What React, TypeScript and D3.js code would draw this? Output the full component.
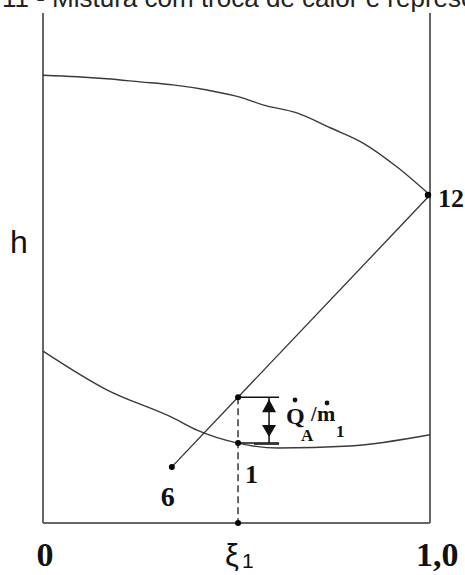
import React from "react";
import * as d3 from "d3";

// Mixing with heat exchange in an enthalpy–concentration (h–ξ) diagram
const upperXi = [0, 0.088, 0.165, 0.251, 0.336, 0.424, 0.509, 0.568, 0.656, 0.742, 0.827, 0.915, 1];
const upperH = [87.8, 87.5, 87.1, 86.5, 85.9, 84.9, 83.5, 82.0, 80.4, 77.5, 74.5, 69.8, 64.3];

const lowerXi = [0, 0.165, 0.336, 0.398, 0.501, 0.607, 0.793, 1];
const lowerH = [33.7, 26.1, 20.6, 18.2, 15.7, 14.7, 15.1, 17.3];

const state6 = { xi: 0.333, h: 11.0 };
const state12 = { xi: 1.0, h: 64.3 };
const xi1 = 0.504;
const h1 = 15.7;

const xTickLabels = ["0", "1,0"];

const W = 465;
const H = 575;

export default function App() {
  const x = d3.scaleLinear().domain([0, 1]).range([43, 430]);
  const y = d3.scaleLinear().domain([0, 100]).range([523, 13]);

  const line = d3
    .line<[number, number]>()
    .x((d) => x(d[0]))
    .y((d) => y(d[1]))
    .curve(d3.curveMonotoneX);

  const upper = line(upperXi.map((v, i) => [v, upperH[i]] as [number, number])) || "";
  const lower = line(lowerXi.map((v, i) => [v, lowerH[i]] as [number, number])) || "";

  // mixture point on the straight line 6–12
  const hMix = state6.h + ((xi1 - state6.xi) / (state12.xi - state6.xi)) * (state12.h - state6.h);

  const x1 = x(xi1);
  const yMix = y(hMix);
  const y1 = y(h1);
  const ax = x1 + 31;
  const serif = "'Liberation Serif', 'Times New Roman', serif";
  const sans = "'Liberation Sans', Arial, sans-serif";
  const ink = "#111";

  return (
    <svg
      width={W}
      height={H}
      style={{ position: "absolute", left: 0, top: 0, background: "#fff" }}
    >
      <rect width={W} height={H} fill="#fff" />
      <text x={2} y={7} fontFamily={sans} fontSize={26} fill="#222">
        11 - Mistura com troca de calor e representação
      </text>

      {/* frame */}
      <g stroke="#666" strokeWidth={2} fill="none">
        <line x1={x(0)} y1={y(100)} x2={x(0)} y2={y(0)} />
        <line x1={x(1)} y1={y(100)} x2={x(1)} y2={y(0)} />
        <line x1={x(0)} y1={y(0)} x2={x(1)} y2={y(0)} />
      </g>

      {/* saturation curves */}
      <path d={upper} fill="none" stroke="#3a3a3a" strokeWidth={1.4} />
      <path d={lower} fill="none" stroke="#3a3a3a" strokeWidth={1.4} />

      {/* mixing line 6–12 */}
      <line
        x1={x(state6.xi)}
        y1={y(state6.h)}
        x2={x(state12.xi)}
        y2={y(state12.h)}
        stroke="#333"
        strokeWidth={1.3}
      />

      {/* dashed vertical at ξ1 */}
      <line
        x1={x1}
        y1={yMix}
        x2={x1}
        y2={y(0)}
        stroke="#444"
        strokeWidth={1.6}
        strokeDasharray="7 4"
      />

      {/* heat arrow */}
      <g stroke="#111" strokeWidth={1.5}>
        <line x1={x1} y1={yMix} x2={ax + 10} y2={yMix} />
        <line x1={x1} y1={y1} x2={ax + 10} y2={y1} />
        <line x1={ax} y1={yMix} x2={ax} y2={y1} />
      </g>
      <line x1={ax - 15} y1={y1 + 1} x2={ax + 10} y2={y1 + 1} stroke="#333" strokeWidth={2} />
      <path
        d={`M${ax},${yMix + 2} L${ax - 7},${yMix + 15} L${ax + 7},${yMix + 15} Z`}
        fill="#111"
      />
      <path
        d={`M${ax},${y1 - 6} L${ax - 7},${y1 - 18} L${ax + 7},${y1 - 18} Z`}
        fill="#111"
      />

      {/* state points */}
      <g fill="#000">
        <circle cx={x(state6.xi)} cy={y(state6.h)} r={3} />
        <circle cx={x(state12.xi) - 2} cy={y(state12.h)} r={3.2} />
        <circle cx={x1} cy={yMix} r={3} />
        <circle cx={x1} cy={y1} r={3} />
        <circle cx={x1} cy={y(0)} r={3} />
      </g>

      {/* point labels */}
      <text x={x(state6.xi) - 11} y={506} fontFamily={serif} fontWeight="bold" fontSize={28} fill={ink}>
        6
      </text>
      <text x={x1 + 7} y={483} fontFamily={serif} fontWeight="bold" fontSize={26} fill={ink}>
        1
      </text>
      <text x={438} y={207} fontFamily={serif} fontWeight="bold" fontSize={26} fill={ink}>
        12
      </text>

      {/* Q̇A / ṁ1 */}
      <g fontFamily={serif} fontWeight="bold" fill={ink}>
        <text x={286} y={424} fontSize={24}>Q</text>
        <text x={301} y={441} fontSize={17}>A</text>
        <text x={311} y={421} fontSize={20}>/</text>
        <text x={317} y={421} fontSize={22}>m</text>
        <text x={336} y={437} fontSize={17}>1</text>
        <circle cx={295} cy={400} r={2.4} />
        <circle cx={327} cy={403} r={2.4} />
      </g>

      {/* axis labels */}
      <text x={10} y={253} fontFamily={sans} fontSize={32} fill={ink}>
        h
      </text>
      <text x={x(0) + 2} y={566} textAnchor="middle" fontFamily={serif} fontWeight="bold" fontSize={34} fill={ink}>
        {xTickLabels[0]}
      </text>
      <text x={416} y={566} fontFamily={serif} fontWeight="bold" fontSize={34} fill={ink}>
        {xTickLabels[1]}
      </text>
      <text x={225} y={566} fontFamily={sans} fontSize={31} fill={ink}>
        ξ
      </text>
      <text x={242} y={568} fontFamily={sans} fontSize={21} fill={ink}>
        1
      </text>
    </svg>
  );
}
